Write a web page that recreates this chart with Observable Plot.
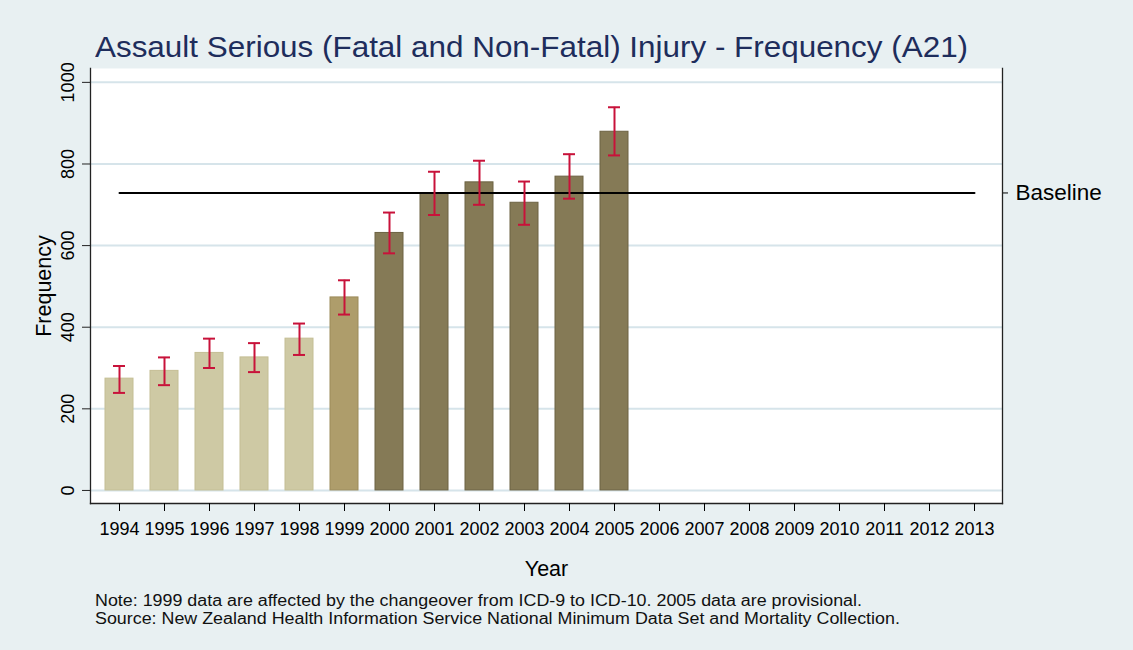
<!DOCTYPE html>
<html><head><meta charset="utf-8">
<script src="https://cdn.jsdelivr.net/npm/d3@7"></script>
<script src="https://cdn.jsdelivr.net/npm/@observablehq/plot@0.6"></script>
<style>
body{margin:0;}
#page{position:relative;width:1133px;height:650px;background:#E8F0F2;font-family:"Liberation Sans",Arial,sans-serif;overflow:hidden}
#title{position:absolute;left:95px;top:31px;font-size:29.5px;color:#1E2D5C;white-space:nowrap;line-height:32px;transform:scaleX(1.065);transform-origin:0 0}
#chart{position:absolute;left:0;top:60px}
#note{position:absolute;left:95px;top:592px;font-size:16px;line-height:18px;color:#111;white-space:nowrap;transform:scaleX(1.116);transform-origin:0 0}
</style></head><body>
<div id="page">
<div id="title">Assault Serious (Fatal and Non-Fatal) Injury - Frequency (A21)</div>
<div id="chart"></div>
<div id="note">Note: 1999 data are affected by the changeover from ICD-9 to ICD-10. 2005 data are provisional.<br>Source: New Zealand Health Information Service National Minimum Data Set and Mortality Collection.</div>
</div>
<script>
// ---- data ----
const years = ["1994","1995","1996","1997","1998","1999","2000","2001","2002","2003","2004","2005","2006","2007","2008","2009","2010","2011","2012","2013"];
const dataYears = ["1994","1995","1996","1997","1998","1999","2000","2001","2002","2003","2004","2005"];
const frequency = [274, 293, 337, 326, 372, 473, 631, 727, 755, 705, 769, 879];
const lower = [239, 258, 300, 290, 332, 431, 581, 675, 700, 651, 715, 821];
const upper = [305, 326, 372, 361, 409, 515, 681, 781, 808, 757, 824, 939];
const period = ["ICD-9","ICD-9","ICD-9","ICD-9","ICD-9","Changeover","ICD-10","ICD-10","ICD-10","ICD-10","ICD-10","ICD-10"];
const baseline = 729;
const yTicks = [0, 200, 400, 600, 800, 1000];

// ---- styles ----
const fillColors = {"ICD-9": "#CEC9A4", "Changeover": "#AE9D6B", "ICD-10": "#857A56"};
const strokeColors = {"ICD-9": "#C4BE94", "Changeover": "#9C8B5B", "ICD-10": "#6C6242"};
const errColor = "#C8123A";

const data = dataYears.map((y, i) => ({year: y, frequency: frequency[i], lower: lower[i], upper: upper[i], period: period[i]}));
const baseData = years.map(y => ({year: y, value: baseline}));

const chart = Plot.plot({
  width: 1133, height: 530,
  marginTop: 8, marginBottom: 87, marginLeft: 90, marginRight: 131,
  style: {background: "transparent", fontFamily: "'Liberation Sans', Arial, sans-serif", color: "#000"},
  x: {type: "band", domain: years, paddingInner: 0.378, paddingOuter: 0.311},
  y: {domain: [-32, 1034]},
  marks: [
    Plot.frame({fill: "white", stroke: null}),
    Plot.gridY(yTicks, {stroke: "#D6E4EA", strokeOpacity: 1, strokeWidth: 2}),
    Plot.barY(data, {x: "year", y: "frequency", fill: d => fillColors[d.period], stroke: d => strokeColors[d.period], strokeWidth: 1}),
    Plot.lineY(baseData, {x: "year", y: "value", stroke: "#000", strokeWidth: 2}),
    Plot.ruleX(data, {x: "year", y1: "lower", y2: "upper", stroke: errColor, strokeWidth: 2}),
    Plot.tickY(data, {x: "year", y: "lower", stroke: errColor, strokeWidth: 2, insetLeft: 8, insetRight: 8}),
    Plot.tickY(data, {x: "year", y: "upper", stroke: errColor, strokeWidth: 2, insetLeft: 8, insetRight: 8}),
    Plot.frame({anchor: "left", stroke: "#222", strokeWidth: 1.3}),
    Plot.frame({anchor: "bottom", stroke: "#222", strokeWidth: 1.3}),
    Plot.frame({anchor: "right", stroke: "#222", strokeWidth: 1.3}),
    Plot.axisY(yTicks, {anchor: "left", tickSize: 8, tickPadding: 9, tickRotate: -90, fontSize: 18, label: null, tickFormat: d => String(d), stroke: "#222"}),
    Plot.axisY([baseline], {anchor: "right", tickSize: 5, tickPadding: 8, tickFormat: () => "Baseline", fontSize: 22.5, label: null}),
    Plot.axisX({tickSize: 8, tickPadding: 11, fontSize: 18, label: null}),
    Plot.text(["Frequency"], {frameAnchor: "left", textAnchor: "middle", rotate: -90, dx: -46.5, fontSize: 21.5, fill: "#000"}),
    Plot.text(["Year"], {frameAnchor: "bottom", dy: 72, fontSize: 21.5, fill: "#000"})
  ]
});
document.getElementById("chart").appendChild(chart);
</script>
</body></html>
